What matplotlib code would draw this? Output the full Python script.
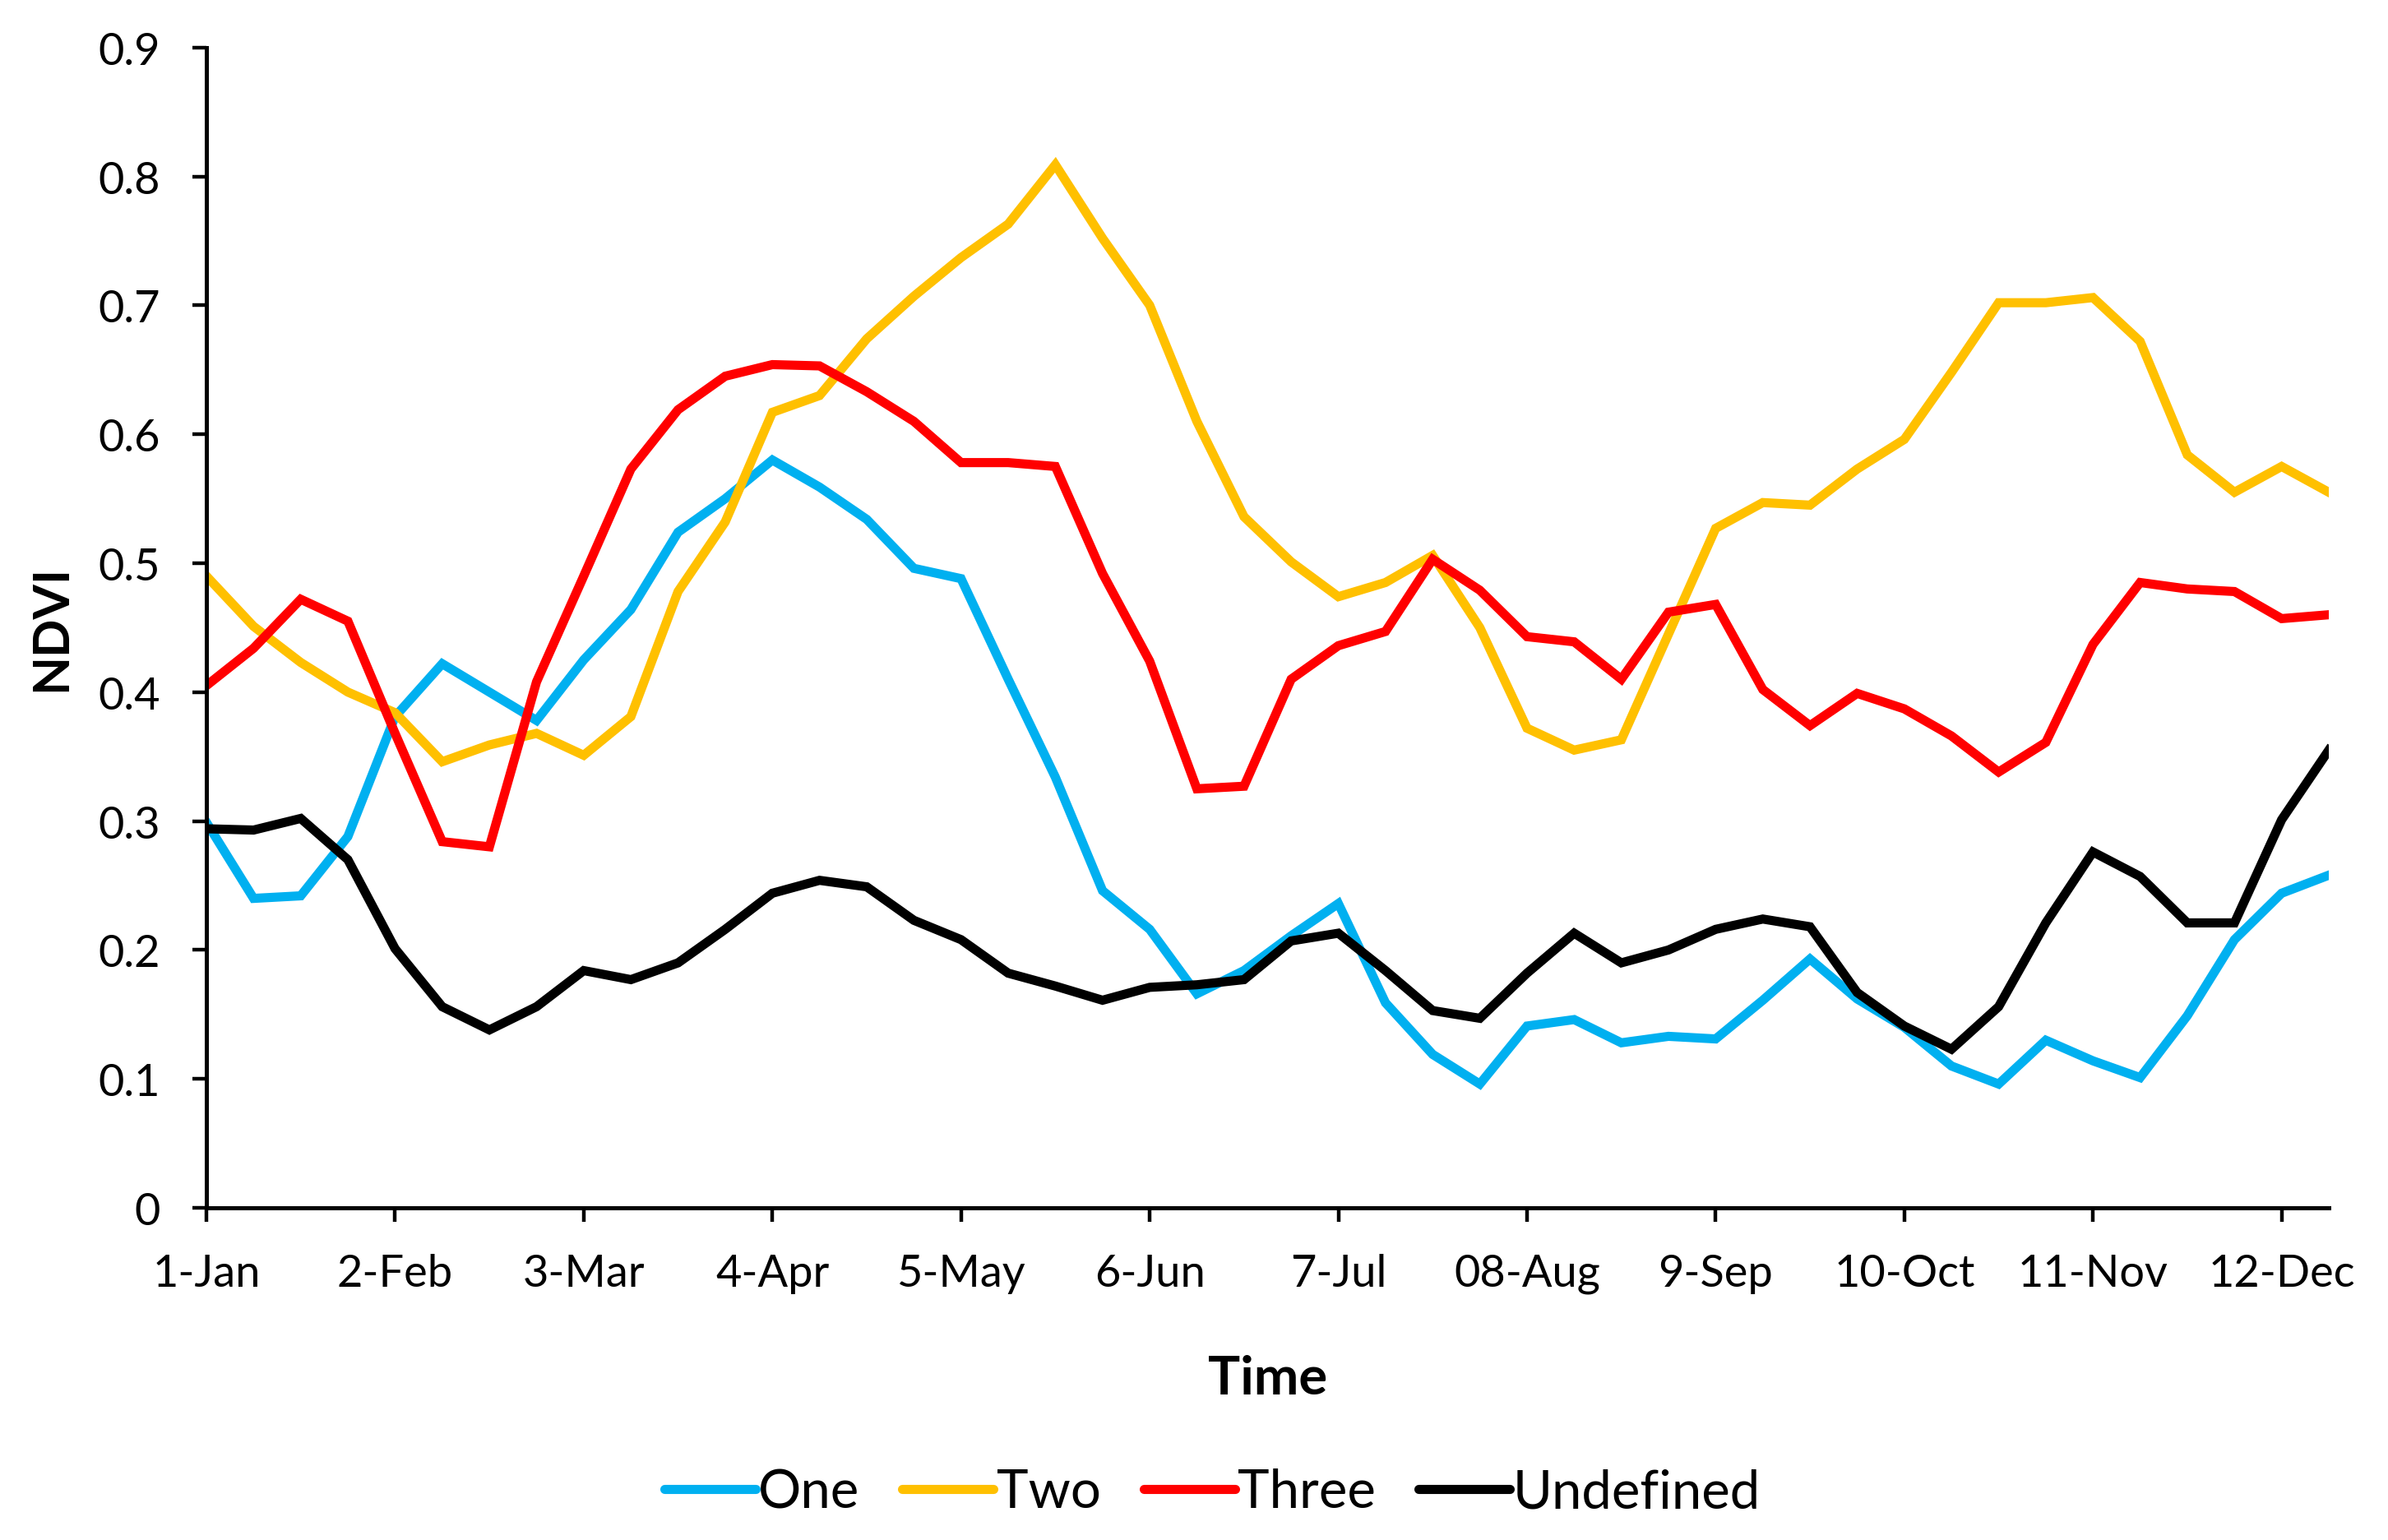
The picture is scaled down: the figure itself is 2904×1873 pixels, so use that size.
import numpy as np
import matplotlib
matplotlib.use("Agg")
from matplotlib import pyplot as plt

plt.rcParams['font.family'] = ['Lato', 'DejaVu Sans']

# 8-day composites, 46 per year
date_labels = ['1-Jan', '2-Feb', '3-Mar', '4-Apr', '5-May', '6-Jun',
               '7-Jul', '08-Aug', '9-Sep', '10-Oct', '11-Nov', '12-Dec']

ndvi_one = [0.299, 0.240, 0.242, 0.288, 0.381, 0.422, 0.400, 0.378, 0.425, 0.464,
            0.524, 0.550, 0.580, 0.559, 0.534, 0.496, 0.488, 0.410, 0.334, 0.246,
            0.216, 0.166, 0.184, 0.211, 0.236, 0.159, 0.119, 0.096, 0.141, 0.146,
            0.128, 0.133, 0.131, 0.161, 0.193, 0.162, 0.140, 0.110, 0.096, 0.130,
            0.114, 0.101, 0.149, 0.208, 0.244, 0.258]

ndvi_two = [0.490, 0.451, 0.423, 0.400, 0.384, 0.346, 0.359, 0.368, 0.351, 0.381,
            0.478, 0.532, 0.617, 0.630, 0.674, 0.707, 0.737, 0.763, 0.809, 0.752,
            0.700, 0.610, 0.536, 0.501, 0.474, 0.485, 0.506, 0.450, 0.372, 0.355,
            0.363, 0.445, 0.527, 0.547, 0.545, 0.573, 0.596, 0.648, 0.702, 0.702,
            0.706, 0.672, 0.584, 0.555, 0.575, 0.555]

ndvi_three = [0.405, 0.434, 0.472, 0.455, 0.368, 0.284, 0.280, 0.408, 0.490, 0.573,
              0.619, 0.645, 0.654, 0.653, 0.633, 0.610, 0.578, 0.578, 0.575, 0.492,
              0.424, 0.325, 0.327, 0.410, 0.436, 0.447, 0.503, 0.479, 0.443, 0.439,
              0.410, 0.462, 0.468, 0.402, 0.374, 0.399, 0.387, 0.366, 0.338, 0.361,
              0.437, 0.485, 0.480, 0.478, 0.457, 0.460]

ndvi_undef = [0.294, 0.293, 0.302, 0.270, 0.201, 0.156, 0.138, 0.156, 0.184, 0.177,
              0.190, 0.216, 0.244, 0.254, 0.249, 0.223, 0.208, 0.182, 0.172, 0.161,
              0.171, 0.173, 0.177, 0.207, 0.213, 0.184, 0.153, 0.147, 0.182, 0.213,
              0.190, 0.200, 0.216, 0.224, 0.218, 0.167, 0.141, 0.123, 0.156, 0.221,
              0.276, 0.257, 0.221, 0.221, 0.301, 0.355]

series = [('One', ndvi_one, '#00B0F0'),
          ('Two', ndvi_two, '#FFC000'),
          ('Three', ndvi_three, '#FF0000'),
          ('Undefined', ndvi_undef, '#000000')]

W, H = 2904, 1874
fig = plt.figure(figsize=(W / 100, H / 100), dpi=100)
# axes box in pixels: x 251..2832, y 58.7..1470
ax = fig.add_axes([251 / W, 1 - 1470 / H, (2832 - 251) / W, (1470 - 58.7) / H])

x = np.arange(len(ndvi_one))
for name, vals, col in series:
    ax.plot(x, vals, color=col, lw=8, label=name, solid_joinstyle='miter')

ax.set_xlim(0, len(x) - 1)
ax.set_ylim(0, 0.9)
ax.set_xticks(np.arange(0, len(x), 4))
ax.set_xticklabels(date_labels)
yt = np.round(np.arange(0, 0.91, 0.1), 1)
ax.set_yticks(yt)
ax.set_yticklabels(['0'] + [f'{v:.1f}' for v in yt[1:]])

for s in ['top', 'right']:
    ax.spines[s].set_visible(False)
for s in ['left', 'bottom']:
    ax.spines[s].set_linewidth(3.6)

ax.tick_params(axis='both', direction='out', length=12.5, width=3.2, labelsize=39)
ax.tick_params(axis='x', pad=27)
ax.tick_params(axis='y', pad=28)

ax.set_ylabel('NDVI', fontsize=44, fontweight='bold')
ax.yaxis.set_label_coords((90 - 251) / (2832 - 251), 0.5)
ax.set_xlabel('Time', fontsize=47, fontweight='bold')
ax.xaxis.set_label_coords(0.5, -(1678 - 1470) / (1470 - 58.7))
ax.xaxis.label.set_va('center')

leg = fig.legend(loc='center', bbox_to_anchor=(1474 / W, 1 - 1816 / H), ncol=4,
                 frameon=False, fontsize=47, handlelength=1.7, handletextpad=0.05,
                 columnspacing=0.8)
for line in leg.get_lines():
    line.set_linewidth(8)
    line.set_solid_capstyle('round')

fig.savefig('out.png', dpi=100)
